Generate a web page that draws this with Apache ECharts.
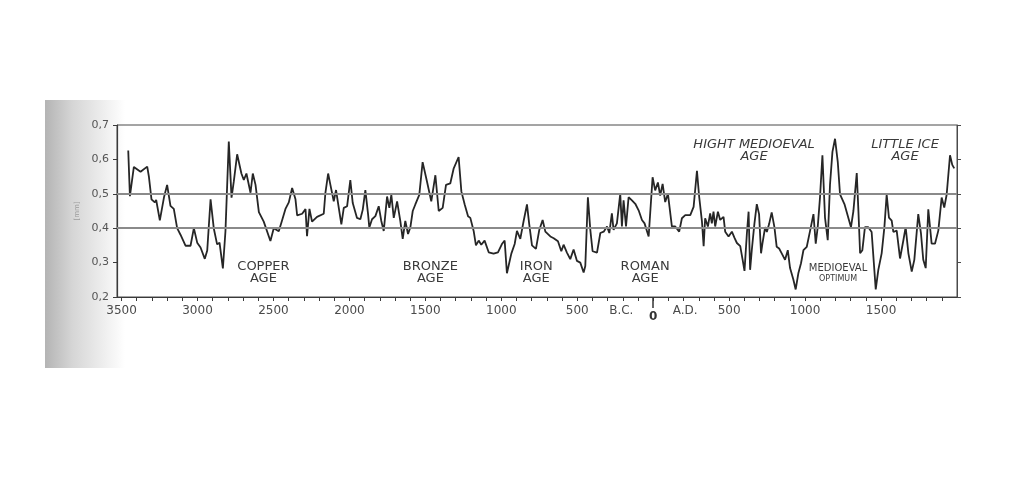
<!DOCTYPE html>
<html><head><meta charset="utf-8">
<script src="https://cdn.jsdelivr.net/npm/echarts@6/dist/echarts.min.js"></script>
<style>html,body{margin:0;padding:0;background:#fff}#c{width:1023px;height:494px}</style>
</head><body><div id="c"></div>
<script>
// Years (negative = B.C.) and values
const years = [-3456,-3445,-3419,-3375,-3364,-3331,-3320,-3303,-3281,-3272,-3248,-3221,-3200,-3178,-3156,-3134,-3112,-3079,-3046,-3024,-3002,-2980,-2952,-2936,-2914,-2893,-2871,-2855,-2833,-2816,-2794,-2776,-2761,-2739,-2711,-2695,-2678,-2651,-2636,-2618,-2596,-2564,-2520,-2498,-2465,-2443,-2421,-2399,-2377,-2355,-2344,-2311,-2289,-2279,-2263,-2246,-2213,-2169,-2158,-2140,
-2125,-2103,-2088,-2070,-2053,-2037,-2015,-1994,-1978,-1950,-1928,-1912,-1895,-1877,-1869,-1851,-1829,-1807,-1790,-1774,-1752,-1737,-1724,-1708,-1686,-1665,-1649,-1632,-1614,-1599,-1583,-1566,-1540,-1518,-1489,-1461,-1434,-1412,-1386,-1364,-1336,-1314,-1303,-1281,-1263,-1241,-1219,-1204,-1182,-1167,-1149,-1132,-1110,-1083,-1051,-1022,-996,-978,-963,-934,-912,-897,-875,-853,-831,-816,-798,-772,
-750,-728,-710,-677,-655,-627,-605,-590,-568,-546,-524,-502,-480,-458,-447,-430,-414,-399,-370,-348,-326,-304,-289,-272,-261,-239,-217,-206,-195,-179,-162,-140,-118,-96,-74,-57,-30,-4,13,31,46,62,79,97,123,145,171,189,211,244,266,288,303,321,332,342,360,375,386,397,408,426,441,463,474,496,518,536,551,573,588,601,617,628,
638,649,666,682,697,710,719,737,748,763,780,798,813,829,846,868,886,901,923,938,956,973,989,1011,1033,1055,1070,1083,1098,1114,1131,1149,1164,1180,1197,1215,1230,1259,1302,1318,1340,1351,1362,1377,1394,1416,1438,1465,1482,1504,1522,1537,1552,1570,1581,1603,1625,1647,1662,1680,1702,1719,1745,1763,1778,1794,1811,1833,1855,1877,1899,1916,1932,1954,1969,1982];
const values = [0.626,0.493,0.578,0.564,0.559,0.579,0.550,0.484,0.475,0.482,0.423,0.489,0.526,0.465,0.456,0.400,0.381,0.349,0.349,0.400,0.358,0.344,0.311,0.335,0.484,0.400,0.353,0.358,0.283,0.391,0.652,0.489,0.536,0.615,0.559,0.540,0.559,0.503,0.559,0.526,0.447,0.419,0.363,0.400,0.391,0.423,0.456,0.475,0.517,0.484,0.437,0.442,0.456,0.377,0.456,0.419,0.433,0.442,0.503,0.559,
0.526,0.478,0.511,0.459,0.411,0.459,0.464,0.540,0.473,0.430,0.426,0.454,0.511,0.440,0.402,0.426,0.435,0.464,0.421,0.392,0.492,0.459,0.497,0.430,0.478,0.421,0.369,0.421,0.383,0.402,0.450,0.469,0.497,0.592,0.535,0.478,0.554,0.450,0.459,0.526,0.530,0.573,0.569,0.607,0.507,0.469,0.435,0.430,0.392,0.350,0.364,0.352,0.364,0.330,0.326,0.330,0.354,0.364,0.269,0.326,0.354,0.392,0.369,0.421,0.469,0.411,0.350,0.340,
0.395,0.424,0.390,0.376,0.371,0.362,0.333,0.352,0.329,0.310,0.338,0.305,0.300,0.271,0.290,0.490,0.395,0.333,0.329,0.386,0.390,0.405,0.386,0.443,0.395,0.414,0.500,0.405,0.481,0.405,0.490,0.481,0.471,0.452,0.424,0.414,0.376,0.548,0.510,0.533,0.495,0.529,0.476,0.500,0.405,0.405,0.390,0.429,0.438,0.438,0.462,0.567,0.490,0.419,0.348,0.429,0.405,0.443,0.414,0.448,0.405,0.448,0.424,0.433,0.390,0.376,0.390,0.371,0.357,0.348,0.310,0.276,0.386,0.448,
0.279,0.336,0.412,0.470,0.441,0.327,0.355,0.403,0.389,0.412,0.446,0.403,0.346,0.341,0.327,0.308,0.336,0.284,0.250,0.222,0.270,0.298,0.336,0.346,0.393,0.441,0.355,0.403,0.489,0.612,0.431,0.365,0.527,0.622,0.660,0.593,0.498,0.470,0.403,0.450,0.560,0.450,0.327,0.336,0.403,0.403,0.389,0.222,0.279,0.327,0.403,0.498,0.431,0.422,0.389,0.393,0.312,0.365,0.403,0.327,0.274,0.308,0.441,0.384,0.308,0.284,0.455,0.355,0.355,0.393,0.489,0.460,0.498,0.612,0.584,0.574];

const xLabelYears = [-3500,-3000,-2500,-2000,-1500,-1000,-500,0,500,1000,1500];
const eraLabels = [{year:-210, text:'B.C.'},{year:210, text:'A.D.'}];
const refLines = [0.4, 0.5];
const ageLabels = [
  {text:'COPPER\nAGE', year:-2566, value:0.272, italic:false, size:13},
  {text:'BRONZE\nAGE', year:-1467, value:0.272, italic:false, size:13},
  {text:'IRON\nAGE', year:-770, value:0.272, italic:false, size:13},
  {text:'ROMAN\nAGE', year:-53, value:0.272, italic:false, size:13},
  {text:'HIGHT MEDIOEVAL\nAGE', year:664, value:0.625, italic:true, size:13},
  {text:'LITTLE ICE\nAGE', year:1658, value:0.625, italic:true, size:13}
];
const optimumLabel = {line1:'MEDIOEVAL', line2:'OPTIMUM', year:1217, value:0.268};

const minorTicks = [];
for (let y = -3500; y <= 1900; y += 100) minorTicks.push(y);
const labelValues = xLabelYears.concat(eraLabels.map(e => e.year)).sort((a,b)=>a-b);

const FONT = 'DejaVu Sans';
const chart = echarts.init(document.getElementById('c'));
chart.setOption({
  animation: false,
  backgroundColor: '#ffffff',
  grid: {left:117, right:66, top:125, bottom:197, show:true, borderColor:'#4a4a4a', borderWidth:1, backgroundColor:'transparent'},
  xAxis: [{
    type:'value', min:-3530, max:2000,
    axisLine:{show:true, onZero:false, lineStyle:{color:'#3a3a3a', width:1.2}},
    axisTick:{show:true, customValues:minorTicks, length:4, inside:false, lineStyle:{color:'#3a3a3a'}},
    splitLine:{show:false},
    axisLabel:{
      customValues:labelValues, margin:8, color:'#4a4a4a', fontFamily:FONT, fontSize:12,
      formatter: v => {
        const era = eraLabels.find(e => e.year === v);
        if (era) return era.text;
        if (v === 0) return '{z|0}';
        return String(Math.abs(v));
      },
      rich:{z:{fontWeight:'bold', fontSize:12, color:'#333', fontFamily:FONT, padding:[6,0,0,0]}}
    }
  },{
    type:'value', min:-3530, max:2000, position:'bottom',
    axisLine:{show:false, onZero:false},
    axisTick:{show:true, customValues:[0], length:11, lineStyle:{color:'#333', width:1.5}},
    axisLabel:{show:false}, splitLine:{show:false}
  }],
  yAxis: [{
    type:'value', min:0.2, max:0.7, interval:0.1,
    name:'[mm]', nameLocation:'middle', nameRotate:90, nameGap:29,
    nameTextStyle:{fontSize:7, color:'#9a9a9a', fontFamily:FONT},
    axisLine:{show:true, onZero:false, lineStyle:{color:'#3a3a3a', width:1.2}},
    axisTick:{show:true, length:4, lineStyle:{color:'#3a3a3a'}},
    splitLine:{show:false},
    axisLabel:{margin:8, color:'#555', fontFamily:FONT, fontSize:11, formatter:v => v.toFixed(1).replace('.', ',')}
  },{
    type:'value', min:0.2, max:0.7, interval:0.1, position:'right',
    axisLine:{show:true, onZero:false, lineStyle:{color:'#4a4a4a'}},
    axisTick:{show:true, length:4, lineStyle:{color:'#4a4a4a'}},
    axisLabel:{show:false}, splitLine:{show:false}
  }],
  series: [{
    type:'line', xAxisIndex:0, yAxisIndex:0,
    data: years.map((y,i) => [y, values[i]]),
    symbol:'none', smooth:false,
    lineStyle:{color:'#262626', width:1.8},
    markLine:{
      silent:true, symbol:'none', label:{show:false},
      lineStyle:{color:'#8a8a8a', width:2.2, type:'solid'},
      data: refLines.map(v => ({yAxis:v}))
    },
    z:3
  }]
});

// page shading on the left (scan look) + annotations positioned through the scales
const graphics = [{
  type:'rect', z:-10, silent:true,
  shape:{x:45, y:100, width:80, height:268},
  style:{fill:new echarts.graphic.LinearGradient(0,0,1,0,[{offset:0,color:'#b4b4b4'},{offset:0.35,color:'#d6d6d6'},{offset:1,color:'#ffffff'}])}
}];
ageLabels.forEach(a => {
  const p = chart.convertToPixel({xAxisIndex:0, yAxisIndex:0}, [a.year, a.value]);
  graphics.push({type:'text', x:p[0], y:p[1], z:5, silent:true,
    style:{text:a.text, fill:'#3a3a3a', font:(a.italic?'italic ':'') + a.size + 'px "' + FONT + '"', align:'center', verticalAlign:'middle', lineHeight:12}});
});
{
  const p = chart.convertToPixel({xAxisIndex:0, yAxisIndex:0}, [optimumLabel.year, optimumLabel.value]);
  graphics.push({type:'text', x:p[0], y:p[1]-5, z:5, silent:true,
    style:{text:optimumLabel.line1, fill:'#3a3a3a', font:'10px "' + FONT + '"', align:'center', verticalAlign:'middle'}});
  graphics.push({type:'text', x:p[0], y:p[1]+5, z:5, silent:true,
    style:{text:optimumLabel.line2, fill:'#3a3a3a', font:'8px "' + FONT + '"', align:'center', verticalAlign:'middle'}});
}
chart.setOption({graphic: graphics});
</script>
</body></html>
